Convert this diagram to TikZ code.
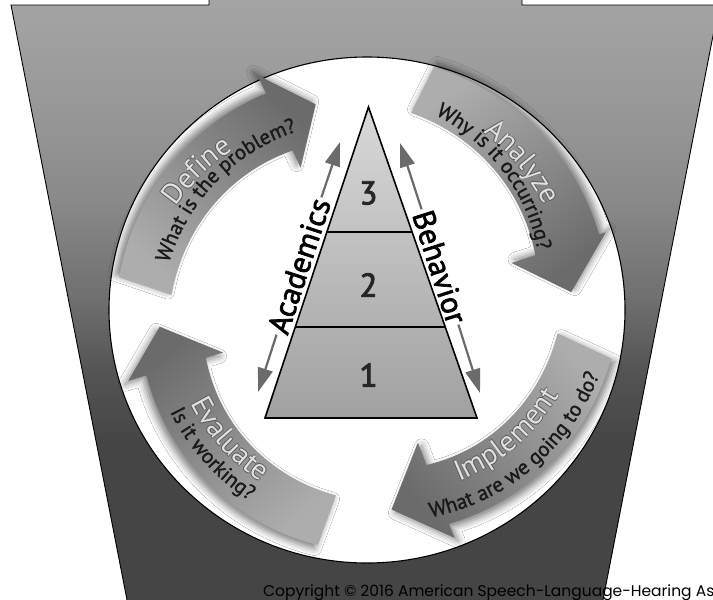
\documentclass[tikz,border=0pt]{standalone}
\usepackage{fontspec}
\setmainfont{PT Sans}
\newfontfamily\heavyfont[FakeBold=2.2]{PT Sans}
\newfontfamily\numfont[FakeBold=2.8]{PT Sans}
\newfontfamily\medfont[FakeBold=1.2]{PT Sans}
\newfontfamily\cpfont{Poppins}
\usetikzlibrary{decorations.text,arrows.meta,shadows.blur,calc}
\definecolor{kA}{gray}{0.27}
\definecolor{kB}{gray}{0.33}
\definecolor{kC}{gray}{0.44}
\definecolor{kD}{gray}{0.54}
\definecolor{kE}{gray}{0.60}
\definecolor{kF}{gray}{0.65}
\definecolor{headc}{gray}{0.42}
\definecolor{tailc}{gray}{0.68}
\definecolor{pyrtop}{gray}{0.85}
\definecolor{pyrbot}{gray}{0.63}
\definecolor{arrowgray}{gray}{0.42}
\definecolor{ttlfill}{gray}{0.88}
\definecolor{ttlout}{gray}{0.35}
\definecolor{subcol}{gray}{0.1}
\pgfdeclareverticalshading{keyst}{100bp}{color(0bp)=(kA); color(38bp)=(kA); color(44bp)=(kB); color(50bp)=(kC); color(58bp)=(kD); color(66bp)=(kE); color(75bp)=(kF); color(100bp)=(kF)}
\newcommand\ttlfont{\fontsize{29}{29}\selectfont}
\newcommand\subfont{\medfont\fontsize{21}{21}\selectfont}
\newcommand\arctext[6]{\path[#5, decorate, decoration={text along path, text align=center, text={#6}}] plot[domain=#1:#2, samples=60, variable=\t] ({367+(#3+(#4-(#3))*(\t-(#1))/((#2)-(#1)))*cos(\t)}, {-310+(#3+(#4-(#3))*(\t-(#1))/((#2)-(#1)))*sin(\t)});}
\newcommand\titletext[5]{%
 \arctext{#1}{#2}{#3}{#4}{shift={(0.8,0)}, decoration={text color=ttlout}}{|\ttlfont|#5}%
 \arctext{#1}{#2}{#3}{#4}{shift={(-0.8,0)}, decoration={text color=ttlout}}{|\ttlfont|#5}%
 \arctext{#1}{#2}{#3}{#4}{shift={(0,0.8)}, decoration={text color=ttlout}}{|\ttlfont|#5}%
 \arctext{#1}{#2}{#3}{#4}{shift={(0,-0.8)}, decoration={text color=ttlout}}{|\ttlfont|#5}%
 \arctext{#1}{#2}{#3}{#4}{decoration={text color=ttlfill}}{|\ttlfont|#5}}
\begin{document}
\begin{tikzpicture}[x=1pt,y=1pt,
  pyrarrow/.style={draw=arrowgray, line width=2.2pt, -{Triangle[length=24pt,width=15pt]}},
  numlabel/.style={font=\numfont\fontsize{33}{33}\selectfont, text=black!85, inner sep=0pt},
  sidelabel/.style={font=\heavyfont\fontsize{31}{31}\selectfont, text=black, inner sep=2pt},
  tierline/.style={draw=black, line width=1.6pt}]
\useasboundingbox (0,0) rectangle (713,-600);
\coordinate (C) at (367,-310);
% keystone
\path[shade, shading=keyst, draw=black, line width=0.9pt] (11,-5) -- (209,-5) -- (209,12) -- (522,12) -- (522,-5) -- (719,-5) -- (602,-605) -- (128,-605) -- cycle;
% white disc
\path[fill=white, draw=black, line width=1.1pt] (C) ellipse [x radius=258, y radius=253];
% curved arrows
\foreach \aOut/\aIn/\aHead/\aTip/\rOut/\rIn/\rOutH/\rInH/\wOut/\wIn/\rTip in {
 172.5/175.6/115/104/250/196/239/176/259/157/212,
 74.6/77.4/18/5/252/202/244/177/251/152/205,
 -11.2/-7/-69/-83/249/192/229/166/244/142/201,
 258.2/260.5/196.5/184.6/240/188/230/168/249/150/208}{
  \pgfmathsetmacro\tmid{(\aOut+\aIn)/2}
  \pgfmathsetmacro\rmid{(\rOut+\rIn)/2}
  \pgfmathsetmacro\adx{\rTip*cos(\aTip)-\rmid*cos(\tmid)}
  \pgfmathsetmacro\ady{\rTip*sin(\aTip)-\rmid*sin(\tmid)}
  \pgfmathsetmacro\sang{atan2(\ady,\adx)-90}
  \pgfmathsetmacro\amid{(\aOut+\aHead)/2}
  \pgfmathsetmacro\shx{5*cos(\amid)}
  \pgfmathsetmacro\shy{5*sin(\amid)}
  \path[blur shadow={shadow xshift=\shx pt, shadow yshift=\shy pt, shadow blur radius=7pt, shadow opacity=50}, top color=headc, bottom color=tailc, shading angle=\sang]
   plot[domain=\aOut:\aHead, samples=40, variable=\t] ({367+(\rOut+(\rOutH-\rOut)*(\t-(\aOut))/(\aHead-(\aOut)))*cos(\t)}, {-310+(\rOut+(\rOutH-\rOut)*(\t-(\aOut))/(\aHead-(\aOut)))*sin(\t)})
   -- ($(C)+(\aHead:\wOut)$) -- ($(C)+(\aTip:\rTip)$) -- ($(C)+(\aHead:\wIn)$)
   -- plot[domain=\aHead:\aIn, samples=40, variable=\t] ({367+(\rInH+(\rIn-\rInH)*(\t-(\aHead))/(\aIn-(\aHead)))*cos(\t)}, {-310+(\rInH+(\rIn-\rInH)*(\t-(\aHead))/(\aIn-(\aHead)))*sin(\t)})
   -- cycle;
}
% arrow texts
\titletext{160}{121}{220.7}{205.2}{Define}
\arctext{176.25}{101.25}{205.55}{189.65}{decoration={text color=subcol}}{|\subfont|What is the problem?}
\titletext{63}{24}{213.6}{204.4}{Analyze}
\arctext{82}{6}{212.6}{174}{decoration={text color=subcol}}{|\subfont|Why is it occurring?}
\titletext{-70}{-16.4}{191.5}{213.1}{Implement}
\arctext{-82}{-7.6}{212.9}{244.7}{decoration={text color=subcol}}{|\subfont|What are we going to do?}
\titletext{200}{246}{199.2}{202.4}{Evaluate}
\arctext{200}{245.5}{221.1}{224.5}{decoration={text color=subcol}}{|\subfont|Is it working?}
% pyramid
\coordinate (apex) at (368.5,-107);
\coordinate (bl) at (265,-418);
\coordinate (br) at (477,-418);
\path[top color=pyrtop, bottom color=pyrbot, draw=black, line width=1.6pt] (apex) -- (br) -- (bl) -- cycle;
\draw[tierline] ($(apex)!0.401!(bl)$) -- ($(apex)!0.401!(br)$);
\draw[tierline] ($(apex)!0.707!(bl)$) -- ($(apex)!0.707!(br)$);
\node[numlabel] (n3) at (368.5,-193) {3};
\node[numlabel] (n2) at (368.5,-285) {2};
\node[numlabel] (n1) at (368.5,-375) {1};
% side labels
\node[sidelabel, rotate=71.9] (acad) at (299,-266) {Academics};
\node[sidelabel, rotate=-72.3] (beh) at (440,-267) {Behavior};
\coordinate (acadup) at (340,-142);
\coordinate (acaddn) at (258,-392);
\coordinate (behup) at (400,-143);
\coordinate (behdn) at (480,-393);
\draw[pyrarrow] (acad.east) -- (acadup);
\draw[pyrarrow] (acad.west) -- (acaddn);
\draw[pyrarrow] (beh.west) -- (behup);
\draw[pyrarrow] (beh.east) -- (behdn);
% copyright
\node[anchor=base west, font=\cpfont\fontsize{15.5}{15.5}\selectfont, text=black, inner sep=0pt] (copy) at (263,-596) {Copyright © 2016 American Speech-Language-Hearing As};
\end{tikzpicture}
\end{document}
